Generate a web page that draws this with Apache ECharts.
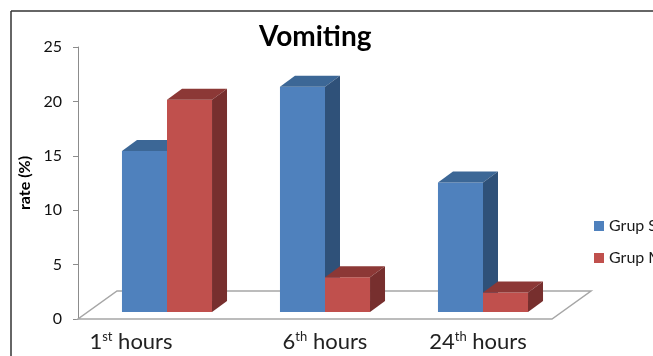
<!DOCTYPE html>
<html>
<head>
<meta charset="utf-8">
<script src="https://cdn.jsdelivr.net/npm/echarts@6/dist/echarts.min.js"></script>
<style>
  html, body { margin: 0; padding: 0; background: #fff; }
  #char { width: 653px; height: 356px; }
</style>
</head>
<body>
<div id="char"></div>
<script>
// data
var categories = ['1st hours', '6th hours', '24th hours'];
var grupS = [14.8, 20.7, 11.9];
var grupM = [19.5, 3.2, 1.8];
var yTicks = [0, 5, 10, 15, 20, 25];

// 3d look
var FRONT_DX = 10, FRONT_DY = -7;   // bar front plane vs axis plane
var DEPTH_DX = 15, DEPTH_DY = -11;  // bar depth
var FLOOR_DX = 39, FLOOR_DY = -28;  // floor depth

function barRender(side, front, top, right) {
    return function (params, api) {
        var base = api.coord([api.value(0), 0]);
        var head = api.coord([api.value(0), api.value(1)]);
        var w = api.size([1, 0])[0] * 0.285;
        var x0 = base[0] + FRONT_DX + (side === 0 ? -w : 0);
        var yb = base[1] + FRONT_DY;
        var yt = head[1] + FRONT_DY;
        return {
            type: 'group',
            children: [
                { type: 'rect', shape: { x: x0, y: yt, width: w, height: yb - yt },
                  style: { fill: front } },
                { type: 'polygon', shape: { points: [[x0, yt], [x0 + w, yt],
                    [x0 + w + DEPTH_DX, yt + DEPTH_DY], [x0 + DEPTH_DX, yt + DEPTH_DY]] },
                  style: { fill: top } },
                { type: 'polygon', shape: { points: [[x0 + w, yt], [x0 + w + DEPTH_DX, yt + DEPTH_DY],
                    [x0 + w + DEPTH_DX, yb + DEPTH_DY], [x0 + w, yb]] },
                  style: { fill: right } }
            ]
        };
    };
}

function floorRender(params, api) {
    var c = params.coordSys;
    var yb = c.y + c.height;
    return {
        type: 'polygon',
        shape: { points: [[c.x, yb], [c.x + c.width, yb],
            [c.x + c.width + FLOOR_DX, yb + FLOOR_DY], [c.x + FLOOR_DX, yb + FLOOR_DY]] },
        style: { fill: '#fff', stroke: '#a6a6a6', lineWidth: 1.5 }
    };
}

var myChart = echarts.init(document.getElementById('char'));

var option = {
    animation: false,
    textStyle: { fontFamily: 'Lato' },
    title: {
        text: 'Vomiting',
        left: 254,
        top: 18,
        textStyle: { fontSize: 28, fontWeight: 'bold', color: '#000', fontFamily: 'Lato' }
    },
    legend: {
        data: ['Grup S', 'Grup M'],
        orient: 'vertical',
        left: 594,
        top: 218,
        padding: 0,
        itemWidth: 10,
        itemHeight: 10,
        itemGap: 16,
        icon: 'rect',
        textStyle: { fontSize: 16, color: '#1a1a1a' }
    },
    grid: { left: 78, top: 47, width: 474, height: 272 },
    xAxis: {
        type: 'category',
        data: categories,
        axisLine: { show: false },
        axisTick: { show: false },
        axisLabel: {
            margin: 11,
            color: '#222',
            formatter: function (v, i) {
                var m = v.match(/^(\d+)(st|nd|rd|th) (.*)$/);
                return '{n' + i + '|' + m[1] + '}{s|' + m[2] + '}{t' + i + '| ' + m[3] + '}';
            },
            rich: {
                n0: { fontSize: 22, color: '#222' },
                n1: { fontSize: 22, color: '#222', padding: [0, 0, 0, 20] },
                n2: { fontSize: 22, color: '#222', padding: [0, 0, 0, 10] },
                t0: { fontSize: 22, color: '#222', padding: [0, 52, 0, 0] },
                t1: { fontSize: 22, color: '#222' },
                t2: { fontSize: 22, color: '#222' },
                s: { fontSize: 13, color: '#222', padding: [0, 0, 10, 0] }
            }
        }
    },
    yAxis: {
        type: 'value',
        min: yTicks[0],
        max: yTicks[yTicks.length - 1],
        interval: yTicks[1] - yTicks[0],
        name: 'rate (%)',
        nameLocation: 'middle',
        nameRotate: 90,
        nameGap: 41,
        nameTextStyle: { fontSize: 16, fontWeight: 'bold', color: '#000' },
        axisLine: { show: true, lineStyle: { color: '#8c8c8c', width: 1 } },
        axisTick: { show: true, length: 5, lineStyle: { color: '#8c8c8c' } },
        splitLine: { show: false },
        axisLabel: { margin: 16, fontSize: 16, color: '#111' }
    },
    graphic: [
        { type: 'line', shape: { x1: 11, y1: 11, x2: 653, y2: 11 },
          style: { stroke: '#333', lineWidth: 1.5 } },
        { type: 'line', shape: { x1: 11, y1: 11, x2: 11, y2: 356 },
          style: { stroke: '#333', lineWidth: 1.5 } }
    ],
    series: [
        {
            name: 'floor',
            type: 'custom',
            z: 1,
            silent: true,
            renderItem: floorRender,
            data: [[0, 0]]
        },
        {
            name: 'Grup S',
            type: 'custom',
            z: 2,
            itemStyle: { color: '#4f81bd' },
            renderItem: barRender(0, '#4f81bd', '#3c6796', '#2f5179'),
            encode: { x: 0, y: 1 },
            data: grupS.map(function (v, i) { return [i, v]; })
        },
        {
            name: 'Grup M',
            type: 'custom',
            z: 3,
            itemStyle: { color: '#c0504d' },
            renderItem: barRender(1, '#c0504d', '#8c3836', '#772f2e'),
            encode: { x: 0, y: 1 },
            data: grupM.map(function (v, i) { return [i, v]; })
        }
    ]
};
myChart.setOption(option);
</script>
</body>
</html>
